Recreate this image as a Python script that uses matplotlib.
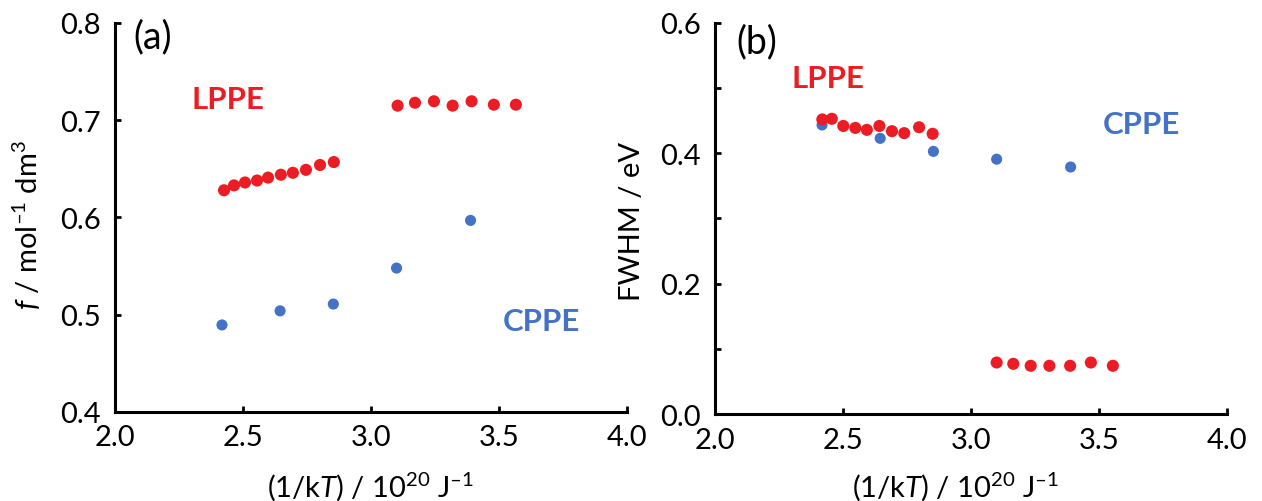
import matplotlib
matplotlib.use("Agg")
import matplotlib.pyplot as plt
from matplotlib.ticker import MultipleLocator, FixedLocator, FuncFormatter

plt.rcParams['font.family'] = ['Lato', 'DejaVu Sans']
plt.rcParams['mathtext.fontset'] = 'custom'
plt.rcParams['mathtext.rm'] = 'Lato'
plt.rcParams['mathtext.it'] = 'Lato:italic'
plt.rcParams['mathtext.bf'] = 'Lato:bold'

RED = '#EC1C24'
BLUE = '#4472C4'

# Inverse thermal energy, 1/kT (10^20 J^-1)
lppe_x_low = [2.426, 2.465, 2.508, 2.555, 2.598, 2.648, 2.695, 2.746, 2.801, 2.855]
lppe_x_high = [3.104, 3.172, 3.246, 3.319, 3.393, 3.480, 3.566]
fwhm_lppe_x_low = [2.419, 2.456, 2.501, 2.548, 2.593, 2.642, 2.691, 2.739, 2.797, 2.850]
fwhm_lppe_x_high = [3.100, 3.165, 3.233, 3.306, 3.387, 3.468, 3.554]
cppe_x = [2.418, 2.645, 2.853, 3.100, 3.389]

# (a) f / mol^-1 dm^3
f_lppe_low = [0.628, 0.633, 0.636, 0.638, 0.641, 0.644, 0.646, 0.649, 0.654, 0.657]
f_lppe_high = [0.715, 0.718, 0.7195, 0.715, 0.7195, 0.716, 0.716]
f_cppe = [0.4895, 0.504, 0.511, 0.548, 0.597]

# (b) FWHM / eV
fwhm_lppe_low = [0.452, 0.453, 0.442, 0.439, 0.436, 0.442, 0.434, 0.431, 0.440, 0.430]
fwhm_lppe_high = [0.079, 0.077, 0.074, 0.074, 0.074, 0.079, 0.074]
fwhm_cppe = [0.4435, 0.423, 0.403, 0.391, 0.379]

fig = plt.figure(figsize=(12.62, 5.02), dpi=100)
ax1 = fig.add_axes([0.0911, 0.1773, 0.4057, 0.7749])
ax2 = fig.add_axes([0.5666, 0.1733, 0.4057, 0.7789])

TICK_FS = 21
LABEL_FS = 21
NAME_FS = 22.5
PANEL_FS = 27

RED_S = 76
BLUE_S = 64

XLABEL = "(1/k$\\mathit{T}$) / 10$^{20}$ J$^{–1}$"


def style(ax):
    for s in ('top', 'right'):
        ax.spines[s].set_visible(False)
    for s in ('left', 'bottom'):
        ax.spines[s].set_linewidth(2.2)
        ax.spines[s].set_capstyle('projecting')
    ax.tick_params(direction='in', length=4.5, width=2.0, labelsize=TICK_FS,
                   colors='black')
    ax.tick_params(axis='y', pad=10)
    ax.tick_params(axis='x', pad=9)
    ax.set_xlim(2.0, 4.0)
    ax.xaxis.set_major_locator(MultipleLocator(0.5))
    ax.xaxis.set_major_formatter(FuncFormatter(lambda v, p: f"{v:.1f}"))
    ax.set_xlabel(XLABEL, fontsize=LABEL_FS, va='top')


style(ax1)
style(ax2)

# Panel (a)
ax1.set_ylim(0.4, 0.8)
ax1.yaxis.set_major_locator(MultipleLocator(0.1))
ax1.yaxis.set_major_formatter(FuncFormatter(lambda v, p: f"{v:.1f}"))
ax1.scatter(lppe_x_low, f_lppe_low, s=RED_S, color=RED, edgecolors='none', zorder=3, clip_on=False)
ax1.scatter(lppe_x_high, f_lppe_high, s=RED_S, color=RED, edgecolors='none', zorder=3, clip_on=False)
ax1.scatter(cppe_x, f_cppe, s=BLUE_S, color=BLUE, edgecolors='none', zorder=3, clip_on=False)
ax1.set_ylabel(r"$f$ / mol$^{–1}$ dm$^{3}$", fontsize=LABEL_FS, va='center')
ax1.yaxis.set_label_coords(-0.172, 0.483)
ax1.xaxis.set_label_coords(0.5, -0.148)
ax1.text(2.072, 0.7866, "(a)", fontsize=PANEL_FS, va='center', ha='left')
ax1.text(2.30, 0.722, "LPPE", fontsize=NAME_FS, fontweight='bold', color=RED, va='center', ha='left')
ax1.text(3.516, 0.4936, "CPPE", fontsize=NAME_FS, fontweight='bold', color=BLUE, va='center', ha='left')

# Panel (b)
ax2.set_ylim(0.0, 0.6)
ax2.yaxis.set_major_locator(FixedLocator([0.0, 0.1, 0.2, 0.3, 0.4, 0.5, 0.6]))
ax2.yaxis.set_major_formatter(FuncFormatter(
    lambda v, p: f"{v:.1f}" if round(v * 10) % 2 == 0 else ""))
ax2.scatter(cppe_x, fwhm_cppe, s=BLUE_S, color=BLUE, edgecolors='none', zorder=3, clip_on=False)
ax2.scatter(fwhm_lppe_x_low, fwhm_lppe_low, s=RED_S, color=RED, edgecolors='none', zorder=4, clip_on=False)
ax2.scatter(fwhm_lppe_x_high, fwhm_lppe_high, s=RED_S, color=RED, edgecolors='none', zorder=4, clip_on=False)
ax2.set_ylabel("FWHM / eV", fontsize=LABEL_FS, va='center')
ax2.yaxis.set_label_coords(-0.162, 0.494)
ax2.xaxis.set_label_coords(0.47, -0.142)
ax2.text(2.085, 0.572, "(b)", fontsize=PANEL_FS, va='center', ha='left')
ax2.text(2.30, 0.5156, "LPPE", fontsize=NAME_FS, fontweight='bold', color=RED, va='center', ha='left')
ax2.text(3.516, 0.445, "CPPE", fontsize=NAME_FS, fontweight='bold', color=BLUE, va='center', ha='left')

fig.savefig("out.png", dpi=100, facecolor='white')
